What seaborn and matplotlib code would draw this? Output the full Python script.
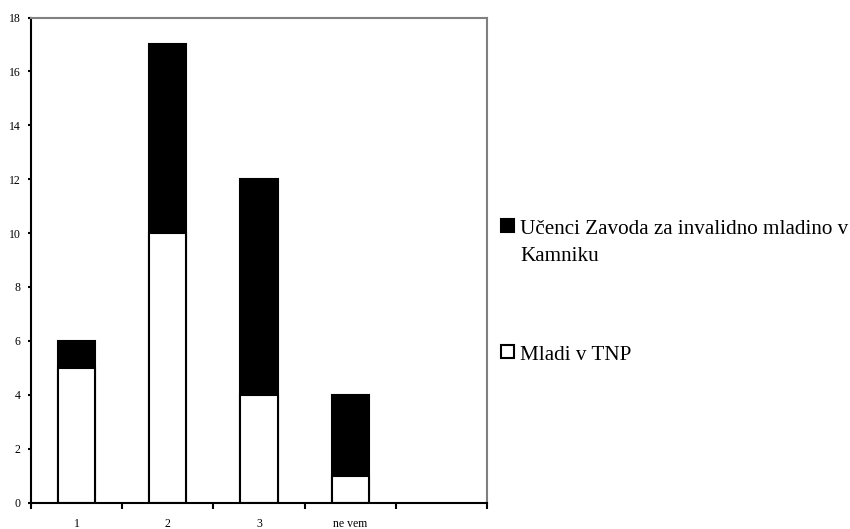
import matplotlib
matplotlib.use("Agg")
import matplotlib.pyplot as plt
import seaborn as sns
import pandas as pd
from matplotlib.patches import Rectangle

categories = ["1", "2", "3", "ne vem"]
mladi_tnp = [5, 10, 4, 1]
ucenci_zavoda = [1, 7, 8, 3]
series_names = ["Učenci Zavoda za invalidno mladino v\nKamniku", "Mladi v TNP"]
y_ticks = list(range(0, 19, 2))

sns.set_theme(style="white")
plt.rcParams['font.family'] = ['Liberation Serif', 'DejaVu Serif']
plt.rcParams['text.color'] = 'black'
plt.rcParams['xtick.color'] = 'black'
plt.rcParams['ytick.color'] = 'black'
plt.rcParams['xtick.labelcolor'] = 'black'
plt.rcParams['ytick.labelcolor'] = 'black'

totals = [a + b for a, b in zip(mladi_tnp, ucenci_zavoda)]
df = pd.DataFrame({"cat": categories, "total": totals, "bottom": mladi_tnp})

fig = plt.figure(figsize=(8.5, 5.29), dpi=100)
W, H = 850, 529
ax = fig.add_axes([31 / W, (H - 502.5) / H, (487 - 31) / W, (502.5 - 17.5) / H])

sns.barplot(data=df, x="cat", y="total", color="black", edgecolor="black",
            linewidth=1.5, width=0.41, saturation=1, ax=ax, order=categories)
sns.barplot(data=df, x="cat", y="bottom", color="white", edgecolor="black",
            linewidth=1.5, width=0.41, saturation=1, ax=ax, order=categories)

ax.set_xlim(-0.5, 4.5)
ax.set_ylim(0, 18)
ax.set_yticks(y_ticks)
ax.set_yticklabels([str(t) for t in y_ticks], fontsize=8.5)
ax.set_xlabel("")
ax.set_ylabel("")

# category boundary ticks (major) and labels at centers (minor)
ax.set_xticks([i - 0.5 for i in range(6)])
ax.set_xticklabels([""] * 6)
ax.set_xticks(list(range(len(categories))), minor=True)
ax.set_xticklabels(categories, minor=True, fontsize=8.5)
ax.tick_params(axis="x", which="major", direction="out", length=4.5, width=1.5,
               color="black", bottom=True)
ax.tick_params(axis="x", which="minor", length=0, pad=11, bottom=True)
ax.tick_params(axis="y", direction="out", length=2.5, width=1.5, color="black",
               left=True, pad=5)

for s in ["left", "bottom"]:
    ax.spines[s].set_color("black")
    ax.spines[s].set_linewidth(1.5)
for s in ["top", "right"]:
    ax.spines[s].set_color("#808080")
    ax.spines[s].set_linewidth(1.5)
ax.grid(False)

# legend
sq = 13
leg_items = [("black", series_names[0], 225), ("white", series_names[1], 351)]
for color, label, yc in leg_items:
    fig.patches.append(Rectangle((501 / W, (H - yc - sq / 2) / H), sq / W, sq / H,
                                 facecolor=color, edgecolor="black", linewidth=1.5,
                                 transform=fig.transFigure, figure=fig))
    fig.text(520 / W, (H - yc + 5) / H, label, fontsize=15.2, ha="left", va="top",
             linespacing=1.6, color="black")

fig.savefig("out.png", dpi=100)
